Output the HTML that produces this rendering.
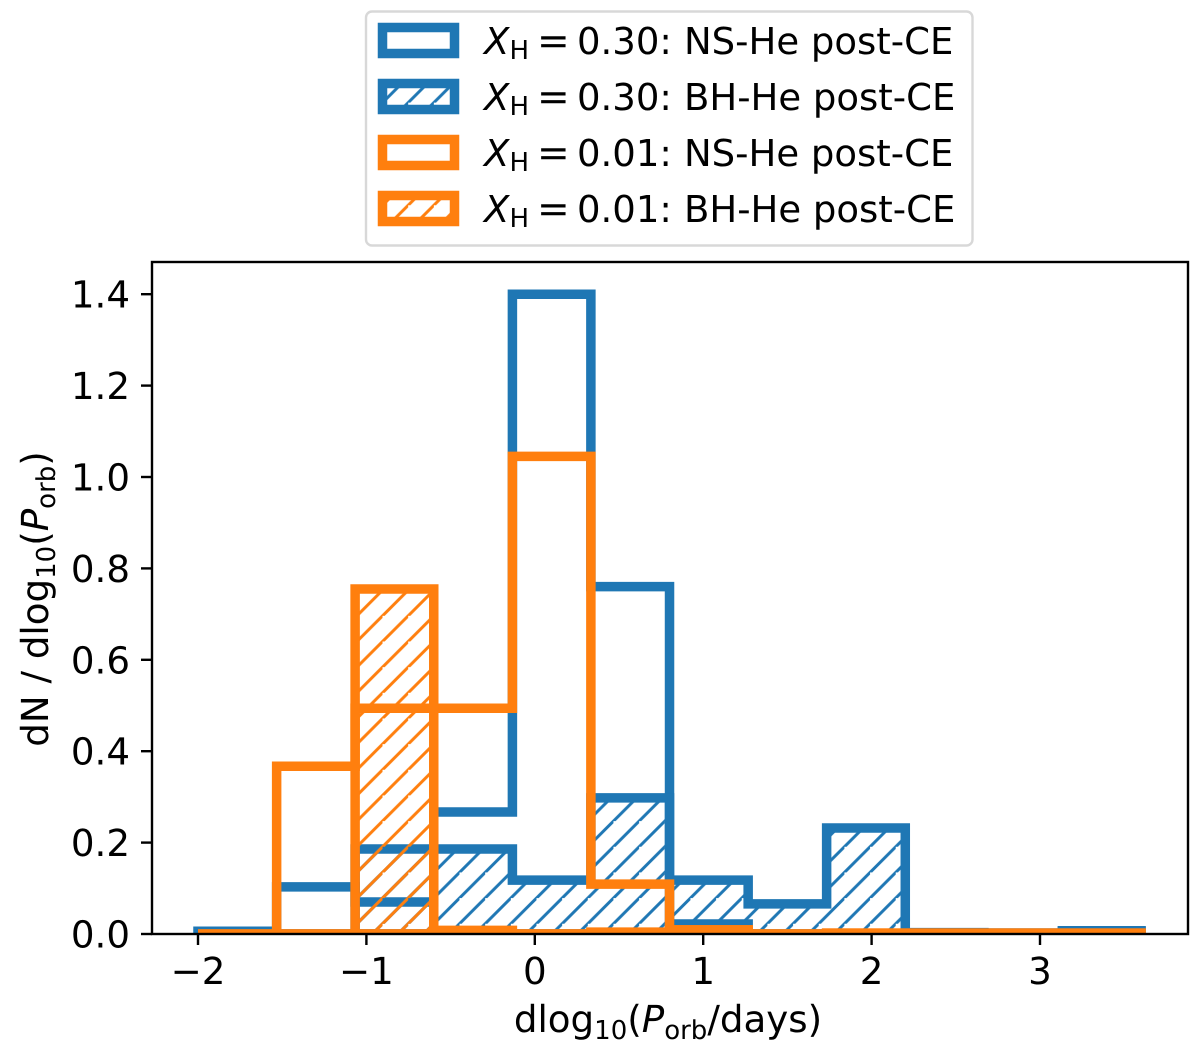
<!DOCTYPE html>
<html>
<head>
<meta charset="utf-8">
<title>Orbital period histogram</title>
<style>
html,body{margin:0;padding:0;background:#fff;}
svg{display:block;}
text{font-family:"DejaVu Sans","Liberation Sans",sans-serif;fill:#000;text-rendering:geometricPrecision;}
.ital{font-style:italic;}
</style>
</head>
<body>
<svg id="chart" width="1200" height="1040" viewBox="0 0 1200 1040" xmlns="http://www.w3.org/2000/svg">
  <defs>
    <pattern id="hatch-blue" patternUnits="userSpaceOnUse" width="25.66" height="25.66" patternTransform="translate(23.3,0)">
      <path d="M-2,27.66 L27.66,-2 M-27.66,25.66 L25.66,-27.66 M0,51.32 L51.32,0" stroke="#1f77b4" stroke-width="3" fill="none"/>
    </pattern>
    <pattern id="hatch-orange" patternUnits="userSpaceOnUse" width="25.66" height="25.66" patternTransform="translate(23.3,0)">
      <path d="M-2,27.66 L27.66,-2 M-27.66,25.66 L25.66,-27.66 M0,51.32 L51.32,0" stroke="#ff7f0e" stroke-width="3" fill="none"/>
    </pattern>
    <clipPath id="plot-clip"><rect x="152" y="262" width="1036" height="672"/></clipPath>
  </defs>
  <rect x="0" y="0" width="1200" height="1040" fill="#fff"/>
  <rect x="152" y="262" width="1036" height="672" fill="#fff"/>
  <g id="series" clip-path="url(#plot-clip)"></g>
  <g id="ticks"></g>
  <rect x="152" y="262" width="1036" height="672" fill="none" stroke="#000" stroke-width="2.4"/>

  <text x="668" y="1032" text-anchor="middle" font-size="37.2">dlog<tspan font-size="26" dy="7">10</tspan><tspan dy="-7">(</tspan><tspan class="ital">P</tspan><tspan font-size="26" dy="7">orb</tspan><tspan dy="-7">/days)</tspan></text>
  <text transform="translate(48,599) rotate(-90)" text-anchor="middle" font-size="37.2">dN / dlog<tspan font-size="26" dy="7">10</tspan><tspan dy="-7">(</tspan><tspan class="ital">P</tspan><tspan font-size="26" dy="7">orb</tspan><tspan dy="-7">)</tspan></text>

  <g>
    <rect x="366" y="11.5" width="606.5" height="234" rx="6" ry="6" fill="#fff" fill-opacity="0.9" stroke="#d8d8d8" stroke-width="2.4"/>

    <g>
      <rect x="382.5" y="27.5" width="72" height="26" fill="none" stroke="#1f77b4" stroke-width="9.5"/>
      <text font-size="37" y="54"><tspan class="ital" x="484">X</tspan><tspan font-size="26" x="509.5" dy="5">H</tspan><tspan x="537" dy="-5" font-size="39">=</tspan><tspan x="577">0.30:</tspan><tspan x="684">NS-He post-CE</tspan></text>
    </g>
    <g>
      <rect x="382.5" y="83.5" width="72" height="26" fill="url(#hatch-blue)" stroke="#1f77b4" stroke-width="9.5"/>
      <text font-size="37" y="110"><tspan class="ital" x="484">X</tspan><tspan font-size="26" x="509.5" dy="5">H</tspan><tspan x="537" dy="-5" font-size="39">=</tspan><tspan x="577">0.30:</tspan><tspan x="684">BH-He post-CE</tspan></text>
    </g>
    <g>
      <rect x="382.5" y="139.5" width="72" height="26" fill="none" stroke="#ff7f0e" stroke-width="9.5"/>
      <text font-size="37" y="166"><tspan class="ital" x="484">X</tspan><tspan font-size="26" x="509.5" dy="5">H</tspan><tspan x="537" dy="-5" font-size="39">=</tspan><tspan x="577">0.01:</tspan><tspan x="684">NS-He post-CE</tspan></text>
    </g>
    <g>
      <rect x="382.5" y="195.5" width="72" height="26" fill="url(#hatch-orange)" stroke="#ff7f0e" stroke-width="9.5"/>
      <text font-size="37" y="222"><tspan class="ital" x="484">X</tspan><tspan font-size="26" x="509.5" dy="5">H</tspan><tspan x="537" dy="-5" font-size="39">=</tspan><tspan x="577">0.01:</tspan><tspan x="684">BH-He post-CE</tspan></text>
    </g>
  </g>
</svg>
<script>
// Chart data
const binEdges = [-2.0, -1.533, -1.067, -0.6, -0.133, 0.333, 0.8, 1.267, 1.733, 2.2, 2.667, 3.133, 3.6];
const xh030NS  = [0.006, 0.103, 0.070, 0.267, 1.400, 0.760, 0.022, 0, 0, 0.002, 0.002, 0.006];
const xh030BH  = [0, 0, 0.186, 0.186, 0.118, 0.298, 0.118, 0.066, 0.232, 0.003, 0.002, 0.007];
const xh001NS  = [0, 0.367, 0.494, 0.494, 1.045, 0.109, 0.009, 0, 0.002, 0.002, 0.002, 0.002];
const xh001BH  = [0, 0, 0.755, 0.008, 0, 0.004, 0.009, 0, 0.002, 0.002, 0.002, 0.002];
const xTickValues = [-2, -1, 0, 1, 2, 3];
const xTickLabels = ['\u22122', '\u22121', '0', '1', '2', '3'];
const yTickValues = [0, 0.2, 0.4, 0.6, 0.8, 1.0, 1.2, 1.4];
const yTickLabels = ['0.0', '0.2', '0.4', '0.6', '0.8', '1.0', '1.2', '1.4'];

const NS = 'http://www.w3.org/2000/svg';
function xScale(v) { return 534.8 + 168.4 * v; }
function yScale(v) { return 934 - 457 * v; }

function stepPath(values) {
  let d = 'M' + xScale(binEdges[0]) + ',' + yScale(0);
  values.forEach(function (v, i) {
    d += ' L' + xScale(binEdges[i]) + ',' + yScale(v);
    d += ' L' + xScale(binEdges[i + 1]) + ',' + yScale(v);
  });
  d += ' L' + xScale(binEdges[binEdges.length - 1]) + ',' + yScale(0) + ' Z';
  return d;
}

const seriesGroup = document.getElementById('series');
function drawSeries(values, color, fill, name) {
  const p = document.createElementNS(NS, 'path');
  p.setAttribute('d', stepPath(values));
  p.setAttribute('fill', fill);
  p.setAttribute('stroke', color);
  p.setAttribute('stroke-width', '9.5');
  p.setAttribute('stroke-linejoin', 'miter');
  p.setAttribute('stroke-miterlimit', '10');
  
  
  seriesGroup.appendChild(p);
}
drawSeries(xh030NS, '#1f77b4', 'none', 'series-xh030-ns');
drawSeries(xh030BH, '#1f77b4', 'url(#hatch-blue)', 'series-xh030-bh');
drawSeries(xh001NS, '#ff7f0e', 'none', 'series-xh001-ns');
drawSeries(xh001BH, '#ff7f0e', 'url(#hatch-orange)', 'series-xh001-bh');

const tickGroup = document.getElementById('ticks');
xTickValues.forEach(function (v, i) {
  const x = xScale(v);
  const line = document.createElementNS(NS, 'line');
  line.setAttribute('x1', x);
  line.setAttribute('x2', x);
  line.setAttribute('y1', 934);
  line.setAttribute('y2', 945);
  line.setAttribute('stroke', '#000');
  line.setAttribute('stroke-width', '2.4');
  
  
  tickGroup.appendChild(line);
  const t = document.createElementNS(NS, 'text');
  t.setAttribute('x', x);
  t.setAttribute('y', 984);
  t.setAttribute('text-anchor', 'middle');
  t.setAttribute('font-size', '37.2');
  
  
  t.textContent = xTickLabels[i];
  tickGroup.appendChild(t);
});
yTickValues.forEach(function (v, i) {
  const y = yScale(v);
  const line = document.createElementNS(NS, 'line');
  line.setAttribute('x1', 141);
  line.setAttribute('x2', 152);
  line.setAttribute('y1', y);
  line.setAttribute('y2', y);
  line.setAttribute('stroke', '#000');
  line.setAttribute('stroke-width', '2.4');
  
  
  tickGroup.appendChild(line);
  const t = document.createElementNS(NS, 'text');
  t.setAttribute('x', 130);
  t.setAttribute('y', y + 13.5);
  t.setAttribute('text-anchor', 'end');
  t.setAttribute('font-size', '37.2');
  
  
  t.textContent = yTickLabels[i];
  tickGroup.appendChild(t);
});
</script>
</body>
</html>
